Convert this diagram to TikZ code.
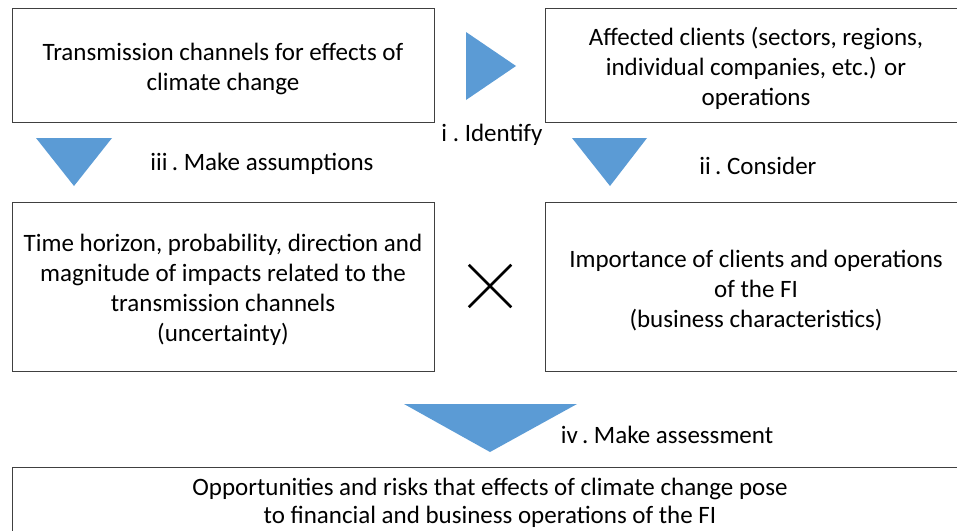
\documentclass[tikz,border=0pt]{standalone}
\usepackage{fontspec}
\setmainfont{Carlito}
\usetikzlibrary{shapes.misc}
\definecolor{stepblue}{RGB}{91,155,213}
\newcommand{\toppad}{\rule{0pt}{25pt}}
\begin{document}
\begin{tikzpicture}[x=1pt,y=-1pt]
\tikzstyle{box}=[draw=black!75,line width=1pt,align=center,inner sep=0pt,minimum width=422pt,font=\fontsize{25}{30}\selectfont]
\tikzstyle{lbl}=[anchor=base,inner sep=0pt,font=\fontsize{25}{30}\selectfont]
\tikzstyle{tri}=[fill=stepblue]
\useasboundingbox (0,0) rectangle (957,530);

\node[box,minimum height=114pt] at (223,65) (chan) {\toppad Transmission channels for effects of\\climate change};
\node[box,minimum height=114pt] at (756,65) (clients) {\toppad Affected clients (sectors, regions,\\individual companies, etc.) or\\operations};
\node[box,minimum height=169pt] at (223,286.5) (horizon) {\toppad Time horizon, probability, direction and\\magnitude of impacts related to the\\transmission channels\\(uncertainty)};
\node[box,minimum height=169pt] at (756,286.5) (importance) {\toppad Importance of clients and operations\\of the FI\\(business characteristics)};
\node[box,minimum width=956pt,minimum height=72pt,font=\fontsize{25}{28.5}\selectfont] at (490,503) (risks) {Opportunities and risks that effects of climate change pose\\to financial and business operations of the FI};

\node[draw=black,line width=2.5pt,cross out,minimum size=40pt,inner sep=0pt] at (490,286) (times) {};

\fill[tri] (466,32) -- (466,100) -- (516,66) -- cycle;
\fill[tri] (36,138) -- (112,138) -- (74,186) -- cycle;
\fill[tri] (572,138) -- (647,138) -- (610,186) -- cycle;
\fill[tri] (404,404) -- (577,404) -- (490,452) -- cycle;

\node[lbl] at (492,141) (identify) {i\ .\ Identify};
\node[lbl] at (262,170) (assume) {iii\,.\ Make assumptions};
\node[lbl] at (758,174) (consider) {ii\,.\ Consider};
\node[lbl] at (667,443) (assess) {iv\,.\ Make assessment};
\end{tikzpicture}
\end{document}
